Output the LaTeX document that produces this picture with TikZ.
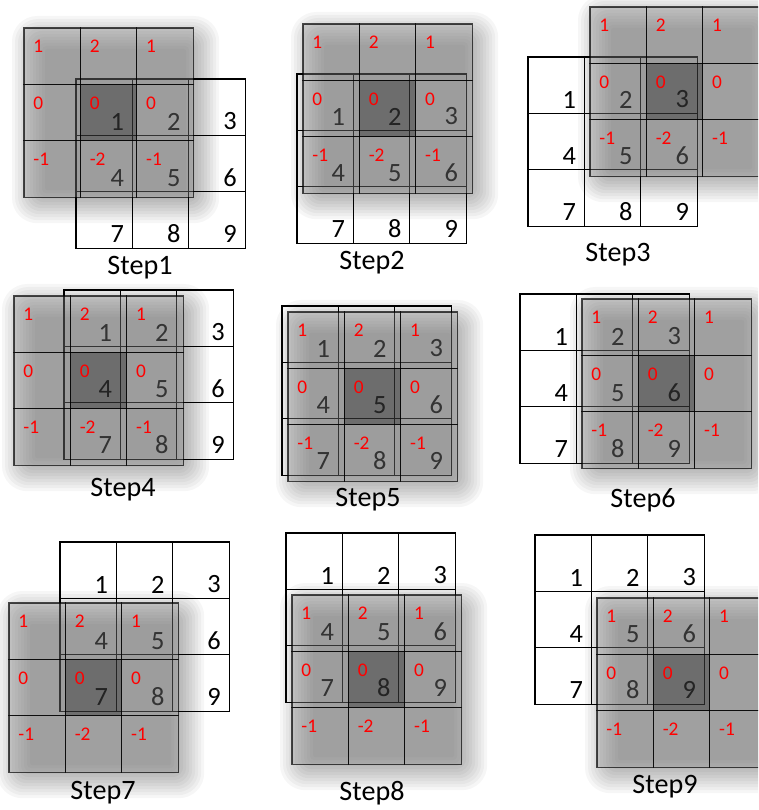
\documentclass[tikz,border=0pt]{standalone}
\usepackage{fontspec}
\setmainfont{Carlito}
\definecolor{kgray}{RGB}{150,150,150}

\begin{document}
\begin{tikzpicture}[x=0.02cm, y=-0.02cm,
  cell/.style={draw=black, line width=0.6pt, fill=white},
  pix/.style={anchor=south east, inner sep=0pt, font=\fontsize{15}{15}\selectfont},
  haze/.style={fill=black, fill opacity=0.035},
  kern/.style={fill=kgray, fill opacity=0.35},
  kcenter/.style={fill=black, fill opacity=0.3},
  kline/.style={draw=black, draw opacity=0.7, line width=0.6pt},
  wt/.style={anchor=north west, inner sep=0pt, text=red, font=\fontsize{11}{11}\selectfont},
  steplabel/.style={font=\fontsize{16}{16}\selectfont}]
  \useasboundingbox (0,0) rectangle (758,810);
  \clip (0,0) rectangle (758,810);
  \def\cs{56.4}
  % step / image corner / kernel corner / label
  \foreach \n/\ix/\iy/\kx/\ky/\lx/\ly in {
    1/76/79/24/28/140/268, 2/297/74/303/24/372/263, 3/528/57/590/7/618/255,
    4/64/290/14/296/123/490, 5/282/306/288/312/368/500, 6/520/294/582/299/643/500,
    7/60/542/9/603/103/793, 8/286/533/292/595/372/793, 9/535/535/597/598/665/787} {
    % image 3x3
    \foreach \p [count=\k from 0] in {1,...,9} {
      \pgfmathtruncatemacro\cc{mod(\k,3)}
      \pgfmathtruncatemacro\rr{int(\k/3)}
      \draw[cell] (\ix+\cc*\cs,\iy+\rr*\cs) rectangle ++(\cs,\cs);
      \node[pix] (s\n-p\p) at (\ix+\cc*\cs+\cs-8,\iy+\rr*\cs+\cs-5) {\p};
    }
    % blurred shadow of the kernel
    \foreach \j in {0,3,...,33} {
      \pgfmathsetmacro\rad{(36-\j)*0.4}
      \fill[haze, rounded corners=\rad pt] (\kx-12+\j,\ky-12+\j) rectangle (\kx+3*\cs+26-\j,\ky+3*\cs+26-\j);
    }
    % kernel
    \fill[kern] (\kx,\ky) rectangle ++(3*\cs,3*\cs);
    \fill[kcenter] (\kx+\cs,\ky+\cs) rectangle ++(\cs,\cs);
    \foreach \w [count=\k from 0] in {1,2,1,0,0,0,-1,-2,-1} {
      \pgfmathtruncatemacro\cc{mod(\k,3)}
      \pgfmathtruncatemacro\rr{int(\k/3)}
      \draw[kline] (\kx+\cc*\cs,\ky+\rr*\cs) rectangle ++(\cs,\cs);
      \node[wt] (s\n-w\k) at (\kx+\cc*\cs+9,\ky+\rr*\cs+12) {\w};
    }
    \node[steplabel] (s\n-lab) at (\lx,\ly) {Step\n};
  }
\end{tikzpicture}
\end{document}
